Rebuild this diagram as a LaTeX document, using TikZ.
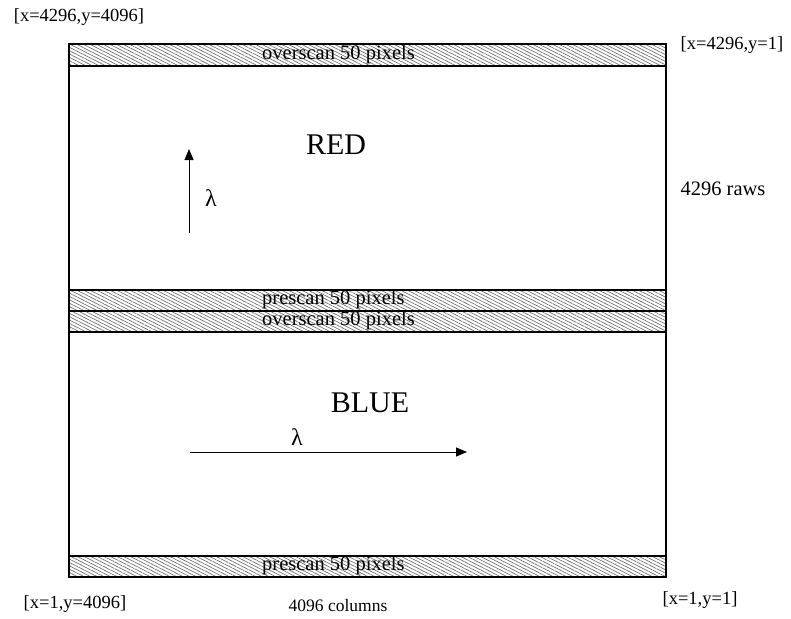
\documentclass[tikz,border=0pt]{standalone}
\usepackage{fontspec}
\setmainfont{Liberation Serif}
\usetikzlibrary{patterns.meta,arrows.meta}
\tikzset{
  band/.style={draw=black,line width=1.2pt,pattern={Lines[angle=-27,distance=3pt,line width=0.7pt]},pattern color=black!55},
  lbl/.style={font=\fontsize{18.5}{20}\selectfont,inner sep=0pt},
  bandlbl/.style={font=\fontsize{20.5}{22}\selectfont,inner sep=0pt,anchor=west},
  big/.style={font=\fontsize{30}{32}\selectfont,inner sep=0pt},
  lam/.style={font=\fontsize{24}{26}\selectfont,inner sep=0pt},
  arr/.style={line width=0.9pt,-{Triangle[length=11pt,width=9pt]}}
}
\begin{document}
\begin{tikzpicture}[x=1pt,y=-1pt]
\useasboundingbox (0,0) rectangle (791,618);
% bands
\path[band] (69,44) rectangle (666,66);
\path[band] (69,290) rectangle (666,311);
\path[band] (69,311) rectangle (666,332);
\path[band] (69,556) rectangle (666,577);
\draw[line width=1.8pt] (69,44) rectangle (666,577);
% band labels
\node[bandlbl] (ov1) at (262,55) {overscan 50 pixels};
\node[bandlbl] (pr1) at (262,300) {prescan 50 pixels};
\node[bandlbl] (ov2) at (262,321) {overscan 50 pixels};
\node[bandlbl] (pr2) at (262,566) {prescan 50 pixels};
% titles
\node[big] (red) at (336,145) {RED};
\node[big] (blue) at (370,403) {BLUE};
% arrows
\coordinate (v0) at (189,233);
\coordinate (v1) at (189,149);
\draw[arr] (v0) -- (v1);
\node[lam] (lam1) at (211,198) {λ};
\coordinate (h0) at (190,452);
\coordinate (h1) at (467,452);
\draw[arr] (h0) -- (h1);
\node[lam] (lam2) at (297,437) {λ};
% corner labels
\node[lbl] (tl) at (79,17) {[x=4296,y=4096]};
\node[lbl] (tr) at (732,45) {[x=4296,y=1]};
\node[lbl,font=\fontsize{20.5}{22}\selectfont] (raws) at (723,189) {4296 raws};
\node[lbl] (bl) at (75,604) {[x=1,y=4096]};
\node[lbl,font=\fontsize{17.5}{20}\selectfont] (cols) at (338,606) {4096 columns};
\node[lbl] (br) at (700,600) {[x=1,y=1]};
\end{tikzpicture}
\end{document}
